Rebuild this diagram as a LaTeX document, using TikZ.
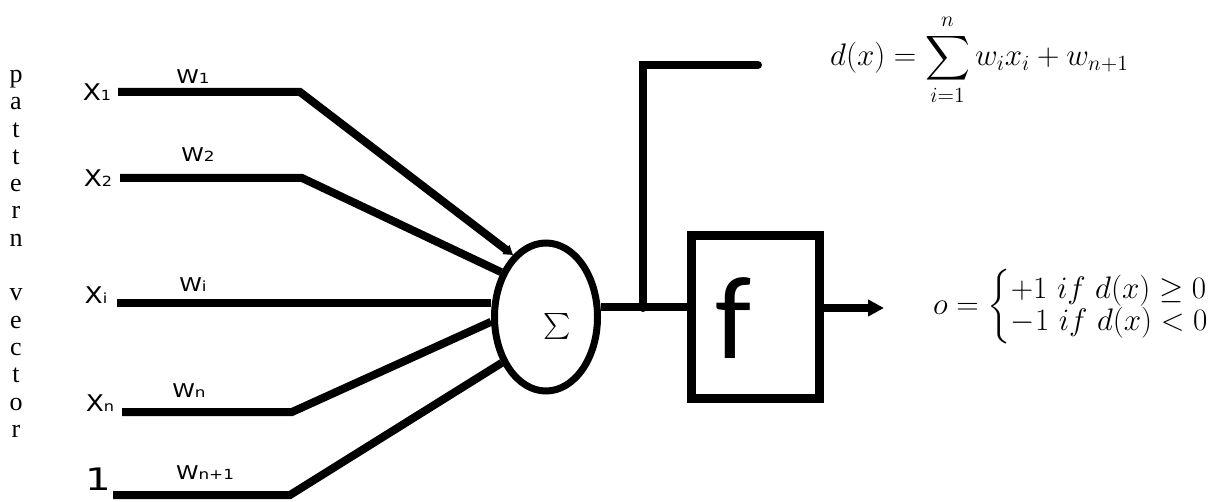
\documentclass[tikz,border=0pt]{standalone}
\usepackage{amsmath}
\usepackage{fontspec}
\usepackage{graphicx}
\usetikzlibrary{shapes.geometric,arrows.meta}
\newfontfamily\letterfont{Liberation Serif}
\newfontfamily\labelfont{DejaVu Sans}
\newfontfamily\boxfont{Carlito}
\newcommand{\inlabel}[3]{\scalebox{#1}[1]{#2{\fontsize{14}{14}\selectfont #3}}}
\tikzset{
  wire/.style={line width=8pt},
  xlab/.style={font=\labelfont\fontsize{23}{23}\selectfont, inner sep=0pt},
  wlab/.style={font=\labelfont\fontsize{19}{19}\selectfont, inner sep=0pt},
  sumnode/.style={draw, ellipse, line width=7pt, minimum width=103pt, minimum height=148pt, inner sep=0pt},
  actbox/.style={draw, rectangle, line width=9pt, minimum width=128pt, minimum height=163pt, inner sep=0pt},
  formula/.style={font=\fontsize{21}{25}\selectfont, inner sep=0pt}
}

\begin{document}
\begin{tikzpicture}[x=1pt, y=-1pt]
  \useasboundingbox (0,0) rectangle (1223,502);
  \node[font=\letterfont\fontsize{26}{27.3}\selectfont, align=center, anchor=north, inner sep=0pt] (pv) at (16,70)
    {p\\a\\t\\t\\e\\r\\n\\[27.3pt]v\\e\\c\\t\\o\\r};

  \node[xlab] (x1) at (97,92) {\inlabel{1.15}{X}{1}};
  \node[xlab] (x2) at (98,178) {\inlabel{1.15}{X}{2}};
  \node[xlab] (xi) at (96,295) {\inlabel{1.15}{X}{i}};
  \node[xlab] (xn) at (100,403) {\inlabel{1.15}{X}{n}};
  \node[font=\labelfont\fontsize{31}{31}\selectfont, inner sep=0pt] (one) at (98,479) {\scalebox{1.3}[1]{1}};

  \node[wlab] (w1) at (193,77) {\inlabel{1.2}{W}{1}};
  \node[wlab] (w2) at (198,155) {\inlabel{1.2}{W}{2}};
  \node[wlab] (wi) at (193,285) {\inlabel{1.2}{W}{i}};
  \node[wlab] (wn) at (189,391) {\inlabel{1.2}{W}{n}};
  \node[wlab] (wb) at (205,473) {\inlabel{1.2}{W}{n+1}};

  \node[sumnode] (sum) at (546,317) {};
  \node[font=\fontsize{22}{22}\selectfont, inner sep=0pt] (sigma) at (557,326) {\scalebox{1.25}{$\sum$}};
  \node[actbox] (act) at (755.5,317) {};
  \node[font=\boxfont\fontsize{118}{118}\selectfont, inner sep=0pt] (f) at (733,318) {f};

  \coordinate (s1) at (118,92);  \coordinate (b1) at (300,92);
  \coordinate (s2) at (120,178); \coordinate (b2) at (302,178);
  \coordinate (si) at (117,303);
  \coordinate (sn) at (122,412); \coordinate (bn) at (292,412);
  \coordinate (sb) at (113,495); \coordinate (bb) at (290,495);
  \coordinate (tap) at (643,308);
  \coordinate (dout) at (758,65);
  \coordinate (oout) at (884,308);

  \draw[wire, -{Triangle[length=9pt, width=11pt]}] (s1) -- (b1) -- (sum.118);
  \draw[wire] (s2) -- (b2) -- (sum.135);
  \draw[wire] (si) -- (si -| sum.west);
  \draw[wire] (sn) -- (bn) -- (sum.185);
  \draw[wire] (sb) -- (bb) -- (sum.226);

  \draw[wire] (sum.10) -- (sum.10 -| act.west);
  \draw[wire, line cap=round] (tap) -- (tap |- dout) -- (dout);
  \draw[wire, -{Triangle[length=16pt, width=16pt]}] (act.east |- oout) -- (oout);

  \node[formula, anchor=west] (dx) at (830,60)
    {\scalebox{1.5}{$\displaystyle d(x)=\sum_{i=1}^{n} w_i x_i + w_{n+1}$}};
  \node[formula, anchor=west] (ox) at (933,307)
    {\scalebox{1.5}{$o=\def\arraystretch{0.8}\left\{\begin{array}{@{}l@{}}+1\ if\ d(x)\geq 0\\ -1\ if\ d(x)<0\end{array}\right.$}};
\end{tikzpicture}
\end{document}
